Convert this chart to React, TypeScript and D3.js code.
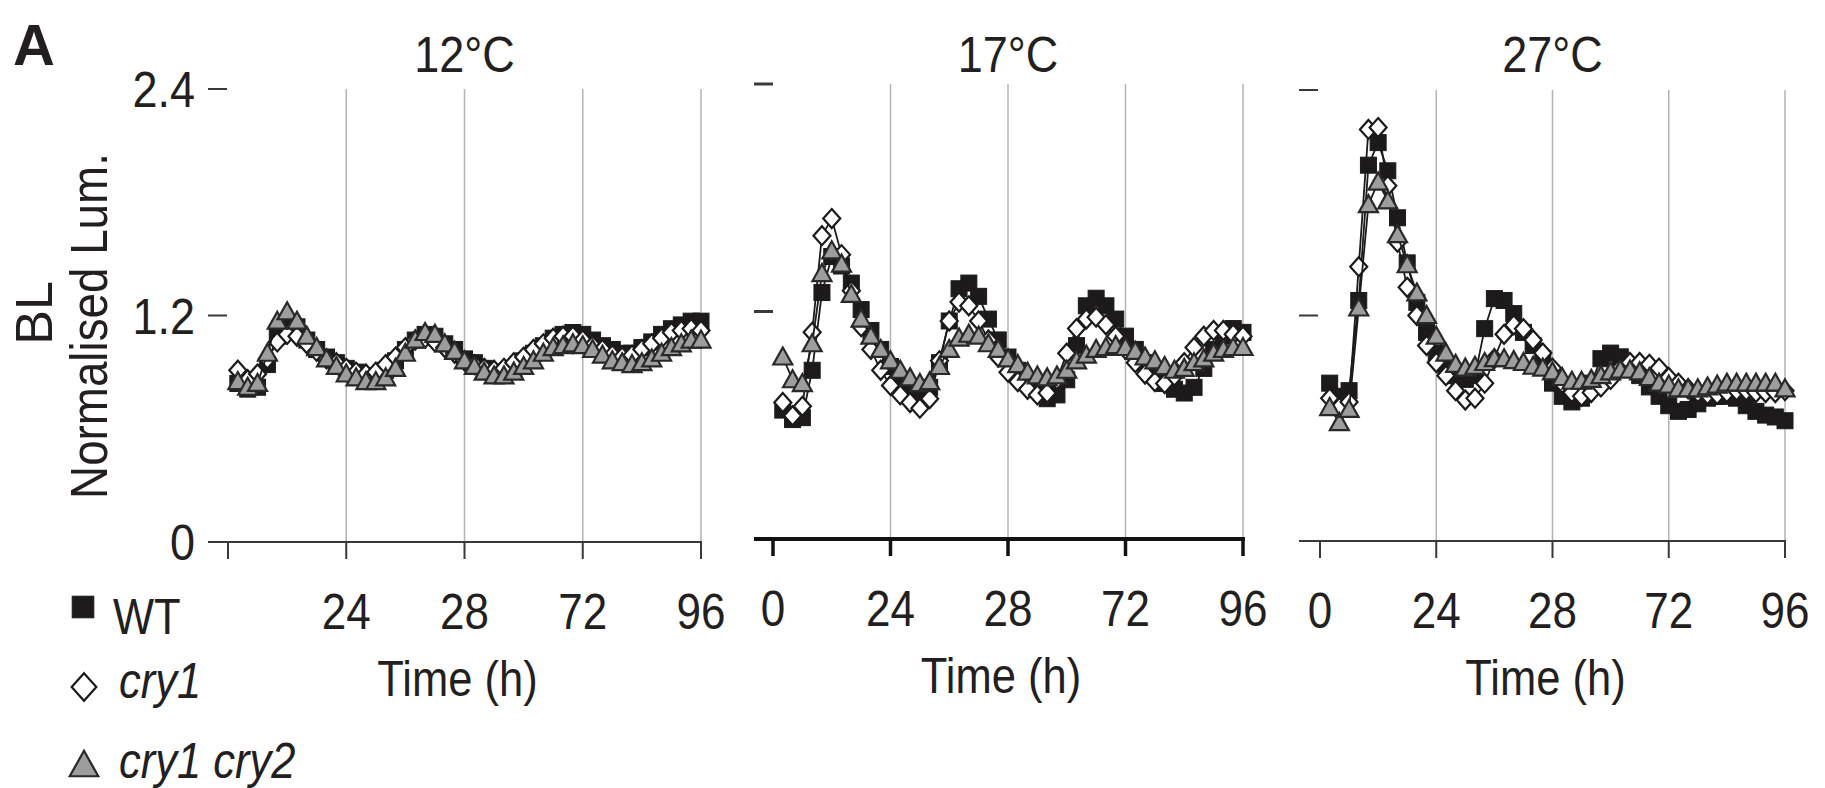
import React from 'react';
import * as d3 from 'd3';

// sampling times (h)
const hours = [2, 4, 6, 8, 10, 12, 14, 16, 18, 20, 22, 24, 26, 28, 30, 32, 34, 36, 38, 40, 42, 44, 46, 48,
  50, 52, 54, 56, 58, 60, 62, 64, 66, 68, 70, 72, 74, 76, 78, 80, 82, 84, 86, 88, 90, 92, 94, 96];

const xTickValues = [0, 24, 48, 72, 96];
const xTickLabels = ['0', '24', '28', '72', '96'];
const yTickValues = [0, 1.2, 2.4];
const yTickLabels = ['0', '1.2', '2.4'];
const panelTitles = ['12°C', '17°C', '27°C'];
const seriesNames = ['WT', 'cry1', 'cry1 cry2'];

// 12°C
const wt12 = [0.84, 0.81, 0.82, 0.94, 1.09, 1.16, 1.14, 1.07, 1.02, 0.98, 0.95, 0.92, 0.90, 0.88, 0.88, 0.91,
  0.96, 1.02, 1.07, 1.10, 1.09, 1.05, 1.02, 0.97, 0.95, 0.92, 0.90, 0.90, 0.92, 0.96, 1.00, 1.04,
  1.08, 1.10, 1.11, 1.10, 1.07, 1.04, 1.02, 1.00, 1.00, 1.03, 1.06, 1.10, 1.13, 1.15, 1.17, 1.17];
const cry12 = [0.91, 0.86, 0.89, 0.97, 1.06, 1.10, 1.09, 1.05, 1.01, 0.97, 0.95, 0.92, 0.90, 0.89, 0.90, 0.94,
  0.98, 1.03, 1.07, 1.08, 1.06, 1.03, 1.00, 0.96, 0.94, 0.92, 0.91, 0.92, 0.95, 0.98, 1.02, 1.05,
  1.08, 1.09, 1.09, 1.07, 1.04, 1.02, 0.99, 0.98, 0.99, 1.02, 1.05, 1.08, 1.11, 1.12, 1.13, 1.12];
const dbl12 = [0.85, 0.82, 0.84, 1.00, 1.17, 1.22, 1.17, 1.09, 1.03, 0.97, 0.93, 0.89, 0.87, 0.85, 0.85, 0.87,
  0.92, 1.00, 1.07, 1.11, 1.10, 1.05, 1.01, 0.96, 0.93, 0.90, 0.88, 0.88, 0.90, 0.93, 0.96, 1.00,
  1.03, 1.04, 1.05, 1.04, 1.02, 0.99, 0.96, 0.95, 0.94, 0.95, 0.97, 1.00, 1.03, 1.05, 1.07, 1.07];

// 17°C
const wt17 = [0.68, 0.63, 0.64, 0.89, 1.30, 1.49, 1.44, 1.35, 1.21, 1.10, 1.00, 0.91, 0.84, 0.79, 0.77, 0.80,
  0.93, 1.15, 1.32, 1.35, 1.28, 1.16, 1.05, 0.96, 0.89, 0.83, 0.79, 0.74, 0.76, 0.84, 1.02, 1.23,
  1.27, 1.23, 1.16, 1.07, 1.00, 0.93, 0.87, 0.82, 0.79, 0.77, 0.80, 0.90, 1.00, 1.07, 1.11, 1.09];
const cry17 = [0.72, 0.65, 0.70, 1.09, 1.60, 1.69, 1.50, 1.31, 1.12, 1.00, 0.89, 0.81, 0.76, 0.72, 0.69, 0.74,
  0.94, 1.15, 1.25, 1.23, 1.15, 1.05, 0.96, 0.88, 0.83, 0.79, 0.76, 0.77, 0.84, 0.98, 1.11, 1.16,
  1.17, 1.13, 1.07, 1.00, 0.93, 0.87, 0.83, 0.82, 0.86, 0.93, 1.01, 1.07, 1.10, 1.10, 1.08, 1.07];
const dbl17 = [0.96, 0.84, 0.82, 1.03, 1.40, 1.52, 1.45, 1.29, 1.16, 1.07, 1.00, 0.94, 0.89, 0.85, 0.82, 0.83,
  0.91, 1.00, 1.06, 1.08, 1.07, 1.03, 1.00, 0.95, 0.92, 0.88, 0.86, 0.85, 0.86, 0.89, 0.94, 0.97,
  1.00, 1.01, 1.02, 1.01, 0.99, 0.96, 0.94, 0.91, 0.89, 0.90, 0.93, 0.95, 0.98, 1.00, 1.01, 1.01];

// 27°C
const wt27 = [0.84, 0.77, 0.80, 1.28, 2.00, 2.12, 1.97, 1.72, 1.48, 1.27, 1.11, 1.00, 0.92, 0.88, 0.86, 0.88,
  1.13, 1.29, 1.28, 1.21, 1.11, 1.04, 0.97, 0.84, 0.77, 0.74, 0.76, 0.84, 0.97, 1.00, 0.98, 0.93,
  0.88, 0.82, 0.77, 0.72, 0.69, 0.70, 0.73, 0.76, 0.77, 0.77, 0.76, 0.72, 0.69, 0.67, 0.66, 0.64];
const cry27 = [0.76, 0.71, 0.74, 1.46, 2.19, 2.20, 1.89, 1.59, 1.35, 1.20, 1.04, 0.95, 0.88, 0.80, 0.75, 0.76,
  0.84, 0.97, 1.10, 1.15, 1.13, 1.07, 1.00, 0.92, 0.84, 0.79, 0.77, 0.79, 0.82, 0.86, 0.92, 0.95,
  0.95, 0.94, 0.92, 0.87, 0.84, 0.81, 0.79, 0.78, 0.78, 0.79, 0.80, 0.80, 0.79, 0.79, 0.79, 0.80];
const dbl27 = [0.71, 0.63, 0.70, 1.24, 1.79, 1.91, 1.81, 1.63, 1.47, 1.32, 1.20, 1.09, 1.00, 0.94, 0.92, 0.93,
  0.95, 0.97, 0.97, 0.96, 0.95, 0.93, 0.92, 0.90, 0.87, 0.85, 0.85, 0.86, 0.88, 0.90, 0.91, 0.91,
  0.90, 0.87, 0.84, 0.83, 0.81, 0.81, 0.81, 0.82, 0.83, 0.84, 0.84, 0.84, 0.84, 0.84, 0.84, 0.81];

const W = 1825;
const H = 788;
const ink = '#231f20';
const font = '"Liberation Sans", Arial, Helvetica, sans-serif';

const panels = [
  { title: panelTitles[0], xr: [228, 701], yr: [542, 89], x0: 208, axisW: 2, yLabels: true, zeroLabel: false, series: [wt12, cry12, dbl12] },
  { title: panelTitles[1], xr: [773, 1243], yr: [539, 84], x0: 754, axisW: 4, yLabels: false, zeroLabel: true, series: [wt17, cry17, dbl17] },
  { title: panelTitles[2], xr: [1320, 1785], yr: [541, 90], x0: 1299, axisW: 2, yLabels: false, zeroLabel: true, series: [wt27, cry27, dbl27] },
];

function Txt({ x, y, size = 50, anchor = 'start', sx = 0.87, rot = 0, italic = false, bold = false, dy = 0, children }: any) {
  return (
    <text
      transform={`translate(${x},${y}) rotate(${rot}) scale(${sx},1)`}
      dy={dy}
      textAnchor={anchor}
      fontFamily={font}
      fontSize={size}
      fontStyle={italic ? 'italic' : 'normal'}
      fontWeight={bold ? 'bold' : 'normal'}
      fill={ink}
    >
      {children}
    </text>
  );
}

function Marker({ kind, x, y, s = 1 }: any) {
  if (kind === 0) {
    const h = 8 * s;
    return <rect x={x - h} y={y - h} width={2 * h} height={2 * h} fill="#1c1a1b" stroke="#1c1a1b" strokeWidth={1} />;
  }
  if (kind === 1) {
    const d = `M${x},${y - 9.5 * s}L${x + 8.5 * s},${y}L${x},${y + 9.5 * s}L${x - 8.5 * s},${y}Z`;
    return <path d={d} fill="#fff" stroke="#1c1a1b" strokeWidth={2.2} />;
  }
  const d = `M${x},${y - 9.5 * s}L${x + 9.5 * s},${y + 7.5 * s}L${x - 9.5 * s},${y + 7.5 * s}Z`;
  return <path d={d} fill="#9d9d9d" stroke="#2a2829" strokeWidth={2.2} strokeLinejoin="miter" />;
}

function Panel({ p }: any) {
  const x = d3.scaleLinear().domain([0, 96]).range(p.xr);
  const y = d3.scaleLinear().domain([0, 2.4]).range(p.yr);
  const line = d3.line<number>().x((_, i) => x(hours[i])).y((v) => y(v));
  const cx = (p.xr[0] + p.xr[1]) / 2;
  const base = p.yr[0];
  return (
    <g>
      <Txt x={cx} y={72} anchor="middle" sx={0.9}>{p.title}</Txt>
      {/* grid */}
      {xTickValues.slice(1).map((t) => (
        <line key={'g' + t} x1={x(t)} x2={x(t)} y1={y(2.4)} y2={base} stroke="#b3b3b3" strokeWidth={1.5} />
      ))}
      {/* y ticks */}
      {yTickValues.slice(1).map((v) => (
        <line key={'yt' + v} x1={p.x0} x2={p.x0 + 19} y1={y(v)} y2={y(v)} stroke="#3a3839" strokeWidth={p.axisW > 2 ? 3 : 2} />
      ))}
      {p.yLabels && yTickValues.map((v, i) => (
        <Txt key={'yl' + v} x={195} y={y(v)} dy={18} anchor="end" sx={0.9}>{yTickLabels[i]}</Txt>
      ))}
      {/* x axis */}
      <line x1={p.x0} x2={p.xr[1] + p.axisW / 2} y1={base} y2={base} stroke={p.axisW > 2 ? '#111' : '#3a3839'} strokeWidth={p.axisW} />
      {xTickValues.map((t) => (
        <line key={'xt' + t} x1={x(t)} x2={x(t)} y1={base} y2={base + 17} stroke={p.axisW > 2 ? '#111' : '#3a3839'} strokeWidth={p.axisW > 2 ? 3.5 : 2} />
      ))}
      {xTickValues.map((t, i) => (i === 0 && !p.zeroLabel ? null : (
        <Txt key={'xl' + t} x={x(t)} y={base + 87} anchor="middle" sx={0.88}>{xTickLabels[i]}</Txt>
      )))}
      <Txt x={cx - 7} y={base + 154} anchor="middle" sx={0.87}>Time (h)</Txt>
      {/* series */}
      {p.series.map((vals: number[], k: number) => (
        <g key={'s' + k}>
          <path d={line(vals) || ''} fill="none" stroke="#1c1a1b" strokeWidth={1.8} />
          {vals.map((v, i) => <Marker key={i} kind={k} x={x(hours[i])} y={y(v)} />)}
        </g>
      ))}
    </g>
  );
}

export default function App() {
  return (
    <svg width={W} height={H} style={{ position: 'absolute', left: 0, top: 0, background: '#fff' }}>
      <rect width={W} height={H} fill="#fff" />
      <Txt x={13} y={65} size={58} bold sx={1}>A</Txt>
      <Txt x={52} y={313} size={52} rot={-90} anchor="middle" sx={1}>BL</Txt>
      <Txt x={107} y={326} size={52} rot={-90} anchor="middle" sx={0.88}>Normalised Lum.</Txt>
      {panels.map((p, i) => <Panel key={i} p={p} />)}
      {/* legend */}
      <Marker kind={0} x={83} y={607} s={1.35} />
      <Txt x={113} y={634}>{seriesNames[0]}</Txt>
      <Marker kind={1} x={84} y={687} s={1.45} />
      <Txt x={119} y={698} italic>{seriesNames[1]}</Txt>
      <Marker kind={2} x={84} y={765} s={1.5} />
      <Txt x={119} y={778} italic>{seriesNames[2]}</Txt>
    </svg>
  );
}
